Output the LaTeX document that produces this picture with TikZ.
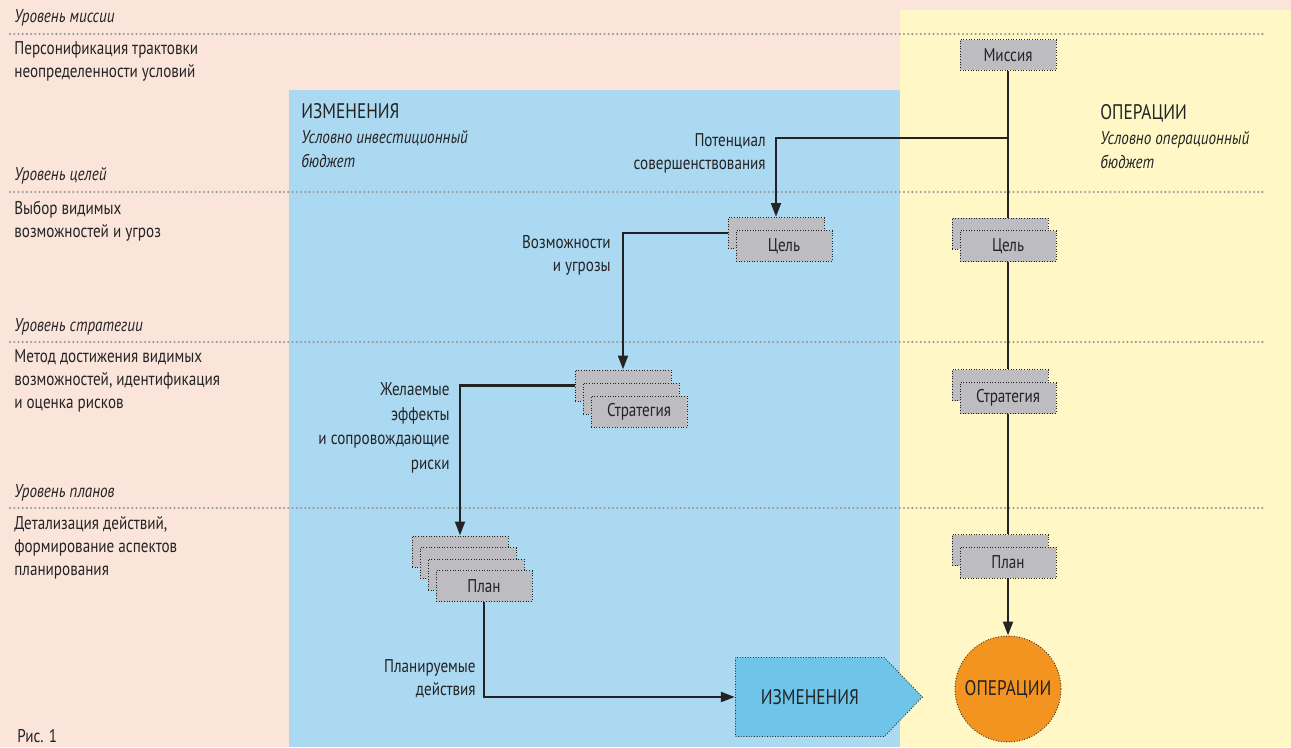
\documentclass[tikz,border=0pt]{standalone}
\usepackage{fontspec}
\setmainfont{PT Sans}[FakeStretch=0.82]
\usetikzlibrary{shapes.symbols,arrows.meta}

\definecolor{pinkbg}{RGB}{251,229,219}
\definecolor{yellowbg}{RGB}{255,248,198}
\definecolor{bluebg}{RGB}{172,217,242}
\definecolor{cardgray}{RGB}{189,189,193}
\definecolor{signalblue}{RGB}{110,197,233}
\definecolor{opsorange}{RGB}{243,147,32}
\definecolor{ink}{RGB}{35,35,35}
\definecolor{dotgray}{RGB}{150,150,150}

\begin{document}
\begin{tikzpicture}[x=0.02cm, y=-0.02cm,
    txt/.style={inner sep=0pt, text=ink, font=\fontsize{10.5}{13}\selectfont},
    lvl/.style={txt, anchor=west, font=\fontsize{10.5}{13}\selectfont\itshape},
    card/.style={draw=ink, densely dotted, line width=0.5pt, fill=cardgray,
        minimum width=1.92cm, minimum height=0.62cm, inner sep=0pt,
        text=ink, font=\fontsize{10.5}{13}\selectfont},
    link/.style={draw=ink, line width=1.6pt, solid},
    arr/.style={link, -{Triangle[length=8pt,width=5.5pt]}},
    sep/.style={draw=dotgray, line width=1.3pt, line cap=round, dash pattern=on 0pt off 2.4pt}]

    % фон
    \fill[pinkbg] (0,0) rectangle (1291,747);
    \fill[yellowbg] (900,10) rectangle (1291,747);
    \fill[bluebg] (289,90) rectangle (900,747);
    \useasboundingbox (0,0) rectangle (1291,747);

    % пунктирные линии уровней
    \foreach \y in {34,192,342,508} {
        \draw[sep] (10,\y) -- (1264,\y);
    }

    % уровни
    \node[lvl] (lmis) at (14,18) {Уровень миссии};
    \node[lvl] (lgoal) at (14,176) {Уровень целей};
    \node[lvl] (lstr) at (14,327) {Уровень стратегии};
    \node[lvl] (lplan) at (14,493) {Уровень планов};

    \node[txt, anchor=west, align=left] (dmis) at (14,61.5) {Персонификация трактовки\\неопределенности условий};
    \node[txt, anchor=west, align=left] (dgoal) at (14,221.5) {Выбор видимых\\возможностей и угроз};
    \node[txt, anchor=west, align=left] (dstr) at (14,381) {Метод достижения видимых\\возможностей, идентификация\\и оценка рисков};
    \node[txt, anchor=west, align=left] (dplan) at (14,548) {Детализация действий,\\формирование аспектов\\планирования};
    \node[txt, anchor=base west] (fig) at (17,742) {Рис. 1};

    % заголовки областей
    \node[txt, anchor=west, align=left, font=\fontsize{10.5}{14}\selectfont] (hchg) at (301,136)
        {{\fontsize{12}{14}\selectfont ИЗМЕНЕНИЯ}\\\itshape Условно инвестиционный\\\itshape бюджет};
    \node[txt, anchor=west, align=left, font=\fontsize{10.5}{14}\selectfont] (hops) at (1100,137)
        {{\fontsize{12}{14}\selectfont ОПЕРАЦИИ}\\\itshape Условно операционный\\\itshape бюджет};

    % правая колонка: операции
    \node[card] (mission) at (1008,55) {Миссия};
    \node[card] (rcb) at (1000,233.5) {};
    \node[card] (rcf) at (1008,246) {Цель};
    \node[card] (rsb) at (1000,385) {};
    \node[card] (rsf) at (1008,398) {Стратегия};
    \node[card] (rpb) at (1000,550) {};
    \node[card] (rpf) at (1008,562.5) {План};
    \node[circle, draw=ink, densely dotted, line width=0.5pt, fill=opsorange, minimum size=2.12cm,
        inner sep=0pt, text=ink, font=\fontsize{12}{14}\selectfont] (ops) at (1008,689) {ОПЕРАЦИИ};

    % левая колонка: изменения
    \foreach \i in {1,2} {
        \node[card] (lc\i) at (768+8*\i,220+13*\i) {};
    }
    \node[txt] at (lc2) {Цель};
    \foreach \i in {1,2,3} {
        \node[card] (ls\i) at (615+8*\i,372.5+13*\i) {};
    }
    \node[txt] at (ls3) {Стратегия};
    \foreach \i in {1,...,4} {
        \node[card] (lp\i) at (452+8*\i,540+11.5*\i) {};
    }
    \node[txt] at (lp4) {План};
    \node[signal, signal to=east, signal pointer angle=92, draw=ink, densely dotted, line width=0.5pt,
        fill=signalblue, minimum width=3.74cm, minimum height=1.58cm, inner sep=0pt,
        text=ink, font=\fontsize{12}{14}\selectfont, anchor=west] (change) at (735,697) {ИЗМЕНЕНИЯ};

    % связи
    \coordinate (branch) at (1008,138);
    \draw[link] (mission.south) -- (mission.south |- rcb.north);
    \draw[link] (rcf.south) -- (rcf.south |- rsb.north);
    \draw[link] (rsf.south) -- (rsf.south |- rpb.north);
    \draw[arr] (rpf.south) -- (ops.north);
    \draw[arr] (branch) -| (lc1.north);
    \draw[arr] (lc1.west) -| (ls1.north);
    \draw[arr] (ls1.west) -| (lp1.north);
    \draw[arr] (lp4.south) |- (change.west);

    % подписи к связям
    \node[txt, anchor=east, align=right] (tpot) at (766,153.5) {Потенциал\\совершенствования};
    \node[txt, anchor=east, align=right] (topp) at (611,255.5) {Возможности\\и угрозы};
    \node[txt, anchor=east, align=right, font=\fontsize{10.5}{14}\selectfont] (teff) at (450,428)
        {Желаемые\\эффекты\\и сопровождающие\\риски};
    \node[txt, anchor=east, align=right] (tact) at (476,679) {Планируемые\\действия};

\end{tikzpicture}
\end{document}
